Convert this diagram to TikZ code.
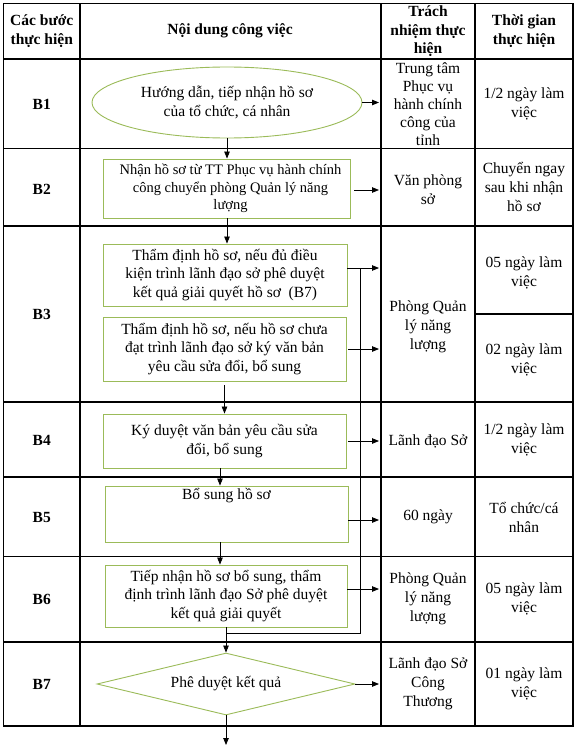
\documentclass[tikz,border=0pt]{standalone}
\usepackage{fontspec}
\setmainfont{Liberation Serif}
\usetikzlibrary{shapes.geometric,arrows.meta,calc}
\definecolor{boxgreen}{RGB}{155,187,89}
\begin{document}
\begin{tikzpicture}[x=1pt,y=-1pt,
  font=\fontsize{15.5}{19}\selectfont,
  grid/.style={draw=black,line width=1.2pt,line cap=rect},
  flowbox/.style={draw=boxgreen,line width=0.9pt,rectangle,inner sep=0pt,align=center,fill=white,
    font=\fontsize{15.5}{18.2}\selectfont},
  cell/.style={align=center,inner sep=0pt},
  hdr/.style={cell,font=\fontsize{15.5}{18.5}\selectfont\bfseries},
  conn/.style={draw=black,line width=0.8pt,-{Triangle[length=7pt,width=5.5pt]}},
  wire/.style={draw=black,line width=0.8pt}]

\useasboundingbox (0,0) rectangle (576,749);

% table grid
\foreach \yy in {3.5,59,148.5,226,402,477,556.5,642,726}
  \draw[grid] (3.5,\yy) -- (573,\yy);
\foreach \xx in {3.5,80,381,475,573}
  \draw[grid] (\xx,3.5) -- (\xx,726);
\draw[grid] (475,314) -- (573,314);

% header
\node[hdr] (h1) at (41.75,31) {Các bước\\thực hiện};
\node[hdr] (h2) at (230,31) {Nội dung công việc};
\node[hdr] (h3) at (428,31.5) {Trách\\nhiệm thực\\hiện};
\node[hdr] (h4) at (524,31) {Thời gian\\thực hiện};

% step labels
\node[hdr] (s1) at (41.75,104) {B1};
\node[hdr] (s2) at (41.75,189) {B2};
\node[hdr] (s3) at (41.75,314) {B3};
\node[hdr] (s4) at (41.75,440) {B4};
\node[hdr] (s5) at (41.75,517) {B5};
\node[hdr] (s6) at (41.75,599) {B6};
\node[hdr] (s7) at (41.75,684) {B7};

% responsibility column
\node[cell,font=\fontsize{15.5}{18}\selectfont] (r1) at (428,104) {Trung tâm\\Phục vụ\\hành chính\\công của\\tỉnh};
\node[cell] (r2) at (428,190) {Văn phòng\\sở};
\node[cell] (r3) at (428,327) {Phòng Quản\\lý năng\\lượng};
\node[cell] (r4) at (428,441) {Lãnh đạo Sở};
\node[cell] (r5) at (428,517) {60 ngày};
\node[cell] (r6) at (428,599) {Phòng Quản\\lý năng\\lượng};
\node[cell] (r7) at (428,684) {Lãnh đạo Sở\\Công\\Thương};

% time column
\node[cell] (t1) at (524,104) {1/2 ngày làm\\việc};
\node[cell] (t2) at (524,187) {Chuyển ngay\\sau khi nhận\\hồ sơ};
\node[cell] (t3) at (524,273) {05 ngày làm\\việc};
\node[cell] (t4) at (524,360) {02 ngày làm\\việc};
\node[cell] (t5) at (524,440) {1/2 ngày làm\\việc};
\node[cell] (t6) at (524,517) {Tổ chức/cá\\nhân};
\node[cell] (t7) at (524,599) {05 ngày làm\\việc};
\node[cell] (t8) at (524,684) {01 ngày làm\\việc};

% flow shapes
\node[flowbox,ellipse,minimum width=270pt,minimum height=71pt,font=\fontsize{15.5}{19.5}\selectfont] (ell) at (227,102.5)
  {Hướng dẫn, tiếp nhận hồ sơ\\của tổ chức, cá nhân};
\node[flowbox,minimum width=247pt,minimum height=59pt,font=\fontsize{14.5}{17.7}\selectfont] (b2) at (226.5,188.5)
  {\hspace*{8pt}Nhận hồ sơ từ TT Phục vụ hành chính\\\hspace*{8pt}công chuyển phòng Quản lý năng\\\hspace*{8pt}lượng};
\node[flowbox,minimum width=244pt,minimum height=62pt] (b3a) at (225,275)
  {Thẩm định hồ sơ, nếu đủ điều\\kiện trình lãnh đạo sở phê duyệt\\kết quả giải quyết hồ sơ~~(B7)};
\node[flowbox,minimum width=243pt,minimum height=64pt] (b3b) at (224.5,349)
  {Thẩm định hồ sơ, nếu hồ sơ chưa\\đạt trình lãnh đạo sở ký văn bản\\yêu cầu sửa đổi, bổ sung};
\node[flowbox,minimum width=243pt,minimum height=54pt] (b4) at (224.5,441)
  {Ký duyệt văn bản yêu cầu sửa\\đổi, bổ sung};
\node[flowbox,minimum width=243pt,minimum height=56pt] (b5) at (226.5,514) {};
\node[cell,anchor=north] (b5t) at ([yshift=-3pt]b5.north) {Bổ sung hồ sơ};
\node[flowbox,minimum width=242pt,minimum height=62pt] (b6) at (226,596)
  {Tiếp nhận hồ sơ bổ sung, thẩm\\định trình lãnh đạo Sở phê duyệt\\kết quả giải quyết};
\node[flowbox,diamond,aspect=4.16,minimum width=258pt,minimum height=62pt] (b7) at (226,684)
  {Phê duyệt kết quả};

% helper coordinates
\coordinate (cx) at (379,0);
\coordinate (jx) at (360.5,0);
\coordinate (endpt) at (226,745);

% right arrows
\draw[conn] (ell.east) -- (ell.east -| cx);
\draw[conn] ([xshift=4pt,yshift=-1.5pt]b2.east) -- ([yshift=-1.5pt]b2.east -| cx);
\draw[conn] ([yshift=7pt]b3a.east) -- ([yshift=7pt]b3a.east -| cx);
\draw[conn] ([xshift=2pt]b3b.east) -- (b3b.east -| cx);
\draw[conn] ([xshift=2pt]b4.east) -- (b4.east -| cx);
\draw[conn] ([yshift=-6pt]b5.east) -- ([yshift=-6pt]b5.east -| cx);
\draw[conn] ([yshift=7pt]b6.east) -- ([yshift=7pt]b6.east -| cx);
\draw[conn] (b7.east) -- (b7.east -| cx);

% down arrows
\draw[conn] (ell.south) -- (ell.south |- b2.north);
\draw[conn] ([xshift=0.5pt]b2.south) -- ([xshift=0.5pt]b2.south |- b3a.north);
\draw[conn] ([yshift=-4pt]b3b.south) -- (b3b.south |- b4.north);
\draw[conn] ([xshift=-4.5pt]b4.south) -- ([xshift=-4.5pt]b4.south |- b5.north);
\draw[conn] ([xshift=-6.5pt]b5.south) -- ([xshift=-6.5pt]b5.south |- b6.north);
\draw[conn] (b6.south) -- (b6.south |- b7.north);
\draw[conn] (b7.south) -- (endpt);

% branch from B3 to B7
\coordinate (j1) at ([yshift=7pt]b3a.east -| jx);
\coordinate (j2) at (360.5,633);
\draw[wire] (j1) -- (j2) -- (j2 -| b6.south);

\end{tikzpicture}
\end{document}
